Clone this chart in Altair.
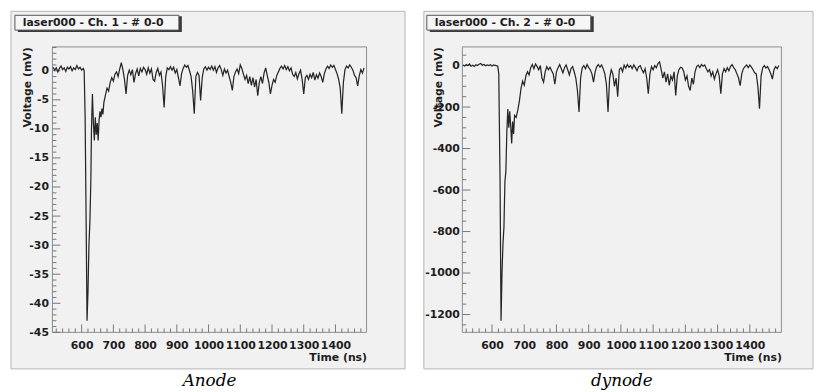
import altair as alt
import pandas as pd

# ---------------- data ----------------
anode_t = (list(range(510, 606, 5))
           + [608, 611, 614, 617, 620, 623, 626, 629, 631, 634, 637, 640, 643, 646,
              649, 652, 655, 658, 661, 664, 667]
           + list(range(670, 1491, 5)))
anode_pre = [0.6, 0.1, 0.5, -0.2, 0.4, 0.8, 0.2, 0.5, -0.1, 0.6,
             0.3, 0.7, 0.0, 0.5, 0.2, 0.9, 0.3, 0.6, 0.1, 0.4]
anode_pulse = [0.0, -8, -25, -43, -38, -30, -26, -19, -10, -4, -9, -12, -8, -11,
               -9, -12, -8.5, -7, -8, -6.5, -7.5]
anode_post = [
    -5.5, -4.2, -3.0, -3.5, -2.0, -1.2, -1.8, -0.6, -0.2, -1.0,
    0.3, 1.4, 0.2, -1.5, -4.0, -0.8, 0.1, -0.7, 0.2, -2.0,
    -0.5, 0.3, -0.9, 0.4, -0.2, 0.6, 0.2, -0.6, 0.5, -0.4,
    0.3, -1.5, -1.8, -0.3, 0.4, -0.8, -0.2, -2.5, -6.3, -1.0,
    0.5, 0.2, 0.7, 0.1, 0.6, -0.4, 0.2, -1.2, -2.6, -0.5,
    0.4, 1.0, 0.6, 0.9, 0.0, -1.0, -3.5, -7.4, -1.0, -0.3,
    -0.8, -5.1, -1.2, 0.3, 0.7, 0.1, 0.6, 0.2, 0.8, 0.1,
    0.7, -0.3, 0.5, 0.9, 0.2, -0.8, 0.3, -0.4, 0.1, -1.0,
    -2.0, -3.4, -1.0, -0.2, 0.3, -0.5, 1.0, 0.4, -0.6, -1.5,
    -0.8, -2.2, -1.0, -2.5, -1.2, -2.8, -1.5, -4.3, -2.0, -1.0,
    -2.2, -0.4, 0.5, -0.8, -2.0, -4.0, -2.5, -1.5, -2.0, -0.8,
    -0.2, 0.4, 0.8, 0.3, 0.9, 0.2, 0.7, 0.0, 0.5, -0.6,
    -1.0, -0.3, -1.4, -0.5, 0.1, -1.5, -4.0, -1.2, -0.8, -1.5,
    -0.6, -1.2, -0.3, -1.6, -0.7, -1.3, -0.4, -1.0, -2.0, -0.5,
    0.3, 0.8, 0.4, 1.0, 0.6, 0.9, 0.2, -0.5, -1.5, -3.0,
    -7.4, -2.0, 0.2, 0.8, 0.5, 1.0, 0.6, 0.1, -0.8, -1.2,
    -2.6, -0.9, 0.2, -0.4, 0.5]
anode_v = anode_pre + anode_pulse + anode_post

dynode_t = (list(range(510, 616, 5))
            + [618, 621, 623, 625, 628, 631, 634, 637, 640, 643, 646, 649, 652, 655,
               658, 661, 664, 667, 670]
            + list(range(675, 1491, 5)))
dynode_pre = [3, -2, 5, 0, 8, -3, 2, -4, 4, 0, 6, 10, 2, 5, -1, 3, 0, 4, -2, 3, 1, -1]
dynode_pulse = [-3, -40, -300, -560, -1230, -1000, -860, -780, -560, -510, -320, -210,
                -300, -220, -290, -375, -270, -330, -240]
dynode_post = [
    -250, -215, -170, -110, -75, -95, -50, -30, -45, -10,
    5, -15, 8, -5, -20, 0, -60, -80, -30, -5,
    -20, -8, -25, -40, -90, -30, -10, 5, -15, -35,
    -10, 3, -20, -45, -15, -5, -30, -60, -120, -224,
    -60, -10, 0, -15, 5, -10, -20, -40, -80, -30,
    -5, 5, -8, 3, -15, -40, -90, -224, -60, -20,
    -40, -100, -60, -150, -20, -10, -30, 2, -12, 5,
    -8, 0, -15, 3, -10, -25, -5, 0, -20, -35,
    -15, -60, -136, -40, -5, -20, 0, -10, 10, 17,
    -20, -60, -30, -80, -40, -95, -50, -70, -30, -144,
    -50, -20, -8, -12, -30, -70, -50, -100, -120, -60,
    -90, -30, -5, 2, -10, 5, -3, 3, -15, -30,
    -20, -50, -30, -65, -40, -20, -50, -136, -40, -15,
    -30, -10, -25, -5, 5, -10, -20, -40, -60, -97,
    -40, -15, -5, 3, -10, 2, -8, -20, -35, -40,
    -100, -208, -50, -10, 0, -12, -5, -20, -40, -65,
    -20, -5, -15, 0]
dynode_v = dynode_pre + dynode_pulse + dynode_post

x_domain = [508, 1498]
x_major = [600, 700, 800, 900, 1000, 1100, 1200, 1300, 1400]
x_minor = [v for v in range(520, 1481, 20) if v % 100 != 0]

anode_ydom = [-45, 4.1]
anode_ymaj = [-45, -40, -35, -30, -25, -20, -15, -10, -5, 0]
anode_ymin = [v for v in range(-44, 5) if v % 5 != 0]

dynode_ydom = [-1286, 90]
dynode_ymaj = [-1200, -1000, -800, -600, -400, -200, 0]
dynode_ymin = [v for v in range(-1250, 51, 50) if v % 200 != 0]

titles = ["laser000 - Ch. 1 - # 0-0", "laser000 - Ch. 2 - # 0-0"]
captions = ["Anode", "dynode"]

# ---------------- style ----------------
H = 289
CANVAS = "#f1f1f1"
INK = "#1e1e1e"
FONT = "DejaVu Sans"


def panel(t, v, ydom, ymaj, ymin, title_text, caption, width, pad_l, pad_r,
          ytitle_x, label_pad, box_l):
    df = pd.DataFrame({"t": t, "v": v})
    one = pd.DataFrame({"k": [0]})
    xs = alt.Scale(domain=x_domain, nice=False, zero=False)
    ys = alt.Scale(domain=ydom, nice=False, zero=False)

    x_axis = alt.Axis(
        values=x_major, labelExpr="'' + datum.value", ticks=False, tickSize=0,
        domain=False, grid=False, labelFont=FONT, labelFontWeight="bold",
        labelFontSize=11, labelColor=INK, labelPadding=7, labelFlush=False,
        labelOverlap=False, title="Time (ns)", titleFont=FONT,
        titleFontWeight="bold", titleFontSize=11, titleColor=INK,
        titleX=width, titleY=25, titleAlign="right", titleBaseline="middle",
        zindex=1)
    y_axis = alt.Axis(
        values=ymaj, labelExpr="'' + datum.value", ticks=False, tickSize=0,
        domain=False, grid=False, labelFont=FONT, labelFontWeight="bold",
        labelFontSize=11, labelColor=INK, labelPadding=label_pad,
        labelOverlap=False, labelFlush=False, title="Voltage (mV)",
        titleFont=FONT, titleFontWeight="bold", titleFontSize=11,
        titleColor=INK, titleX=ytitle_x, titleY=0, titleAngle=270,
        titleAlign="right", titleBaseline="middle", zindex=1)

    bg = alt.Chart(one).mark_rect(fill=CANVAS, stroke="#b5b5b5", strokeWidth=1).encode(
        x=alt.value(-pad_l), x2=alt.value(width + pad_r),
        y=alt.value(-36), y2=alt.value(H + 37))
    frame = alt.Chart(one).mark_rect(fillOpacity=0, stroke="#8c8c8c", strokeWidth=1).encode(
        x=alt.value(0), x2=alt.value(width), y=alt.value(0), y2=alt.value(H))

    line = alt.Chart(df).mark_line(color="#262626", strokeWidth=1.25).encode(
        x=alt.X("t:Q", scale=xs, axis=x_axis),
        y=alt.Y("v:Q", scale=ys, axis=y_axis),
        order=alt.Order("t:Q"))

    xmaj = alt.Chart(pd.DataFrame({"t": x_major})).mark_rule(color="#777", strokeWidth=1).encode(
        x=alt.X("t:Q", scale=xs, axis=x_axis), y=alt.value(H), y2=alt.value(H - 8))
    xmin = alt.Chart(pd.DataFrame({"t": x_minor})).mark_rule(color="#777", strokeWidth=1).encode(
        x=alt.X("t:Q", scale=xs, axis=x_axis), y=alt.value(H), y2=alt.value(H - 4))
    ymajc = alt.Chart(pd.DataFrame({"v": ymaj})).mark_rule(color="#777", strokeWidth=1).encode(
        y=alt.Y("v:Q", scale=ys, axis=y_axis), x=alt.value(0), x2=alt.value(8))
    yminc = alt.Chart(pd.DataFrame({"v": ymin})).mark_rule(color="#777", strokeWidth=1).encode(
        y=alt.Y("v:Q", scale=ys, axis=y_axis), x=alt.value(0), x2=alt.value(4))

    shadow = alt.Chart(one).mark_rect(fill="#3a3a3a").encode(
        x=alt.value(box_l + 3), x2=alt.value(box_l + 169),
        y=alt.value(-31), y2=alt.value(-15))
    box = alt.Chart(one).mark_rect(fill="#f6f6f6", stroke="#555", strokeWidth=1).encode(
        x=alt.value(box_l), x2=alt.value(box_l + 166),
        y=alt.value(-32), y2=alt.value(-17))
    btxt = alt.Chart(one).mark_text(
        align="left", baseline="middle", font=FONT, fontWeight="bold",
        fontSize=11, color=INK).encode(
        x=alt.value(box_l + 8), y=alt.value(-24), text=alt.value(title_text))

    return alt.layer(bg, frame, xmin, xmaj, yminc, ymajc, line, shadow, box, btxt).properties(
        width=width, height=H,
        title=alt.TitleParams(caption, orient="bottom", anchor="middle", frame="group",
                              font="DejaVu Serif", fontStyle="italic", fontWeight="normal",
                              fontSize=17, color="#000", offset=17, baseline="alphabetic"))


left = panel(anode_t, anode_v, anode_ydom, anode_ymaj, anode_ymin, titles[0], captions[0],
             318, 42, 39, -25, 4, -38)
right = panel(dynode_t, dynode_v, dynode_ydom, dynode_ymaj, dynode_ymin, titles[1], captions[1],
              323, 39, 32, -24, 3, -36)

chart = alt.hconcat(left, right, spacing=17).properties(
    padding={"left": 2, "top": 0, "right": 0, "bottom": 0},
    background="white",
).configure_view(stroke=None)

chart.save("out.html", embed_options={"renderer": "svg", "actions": False})
